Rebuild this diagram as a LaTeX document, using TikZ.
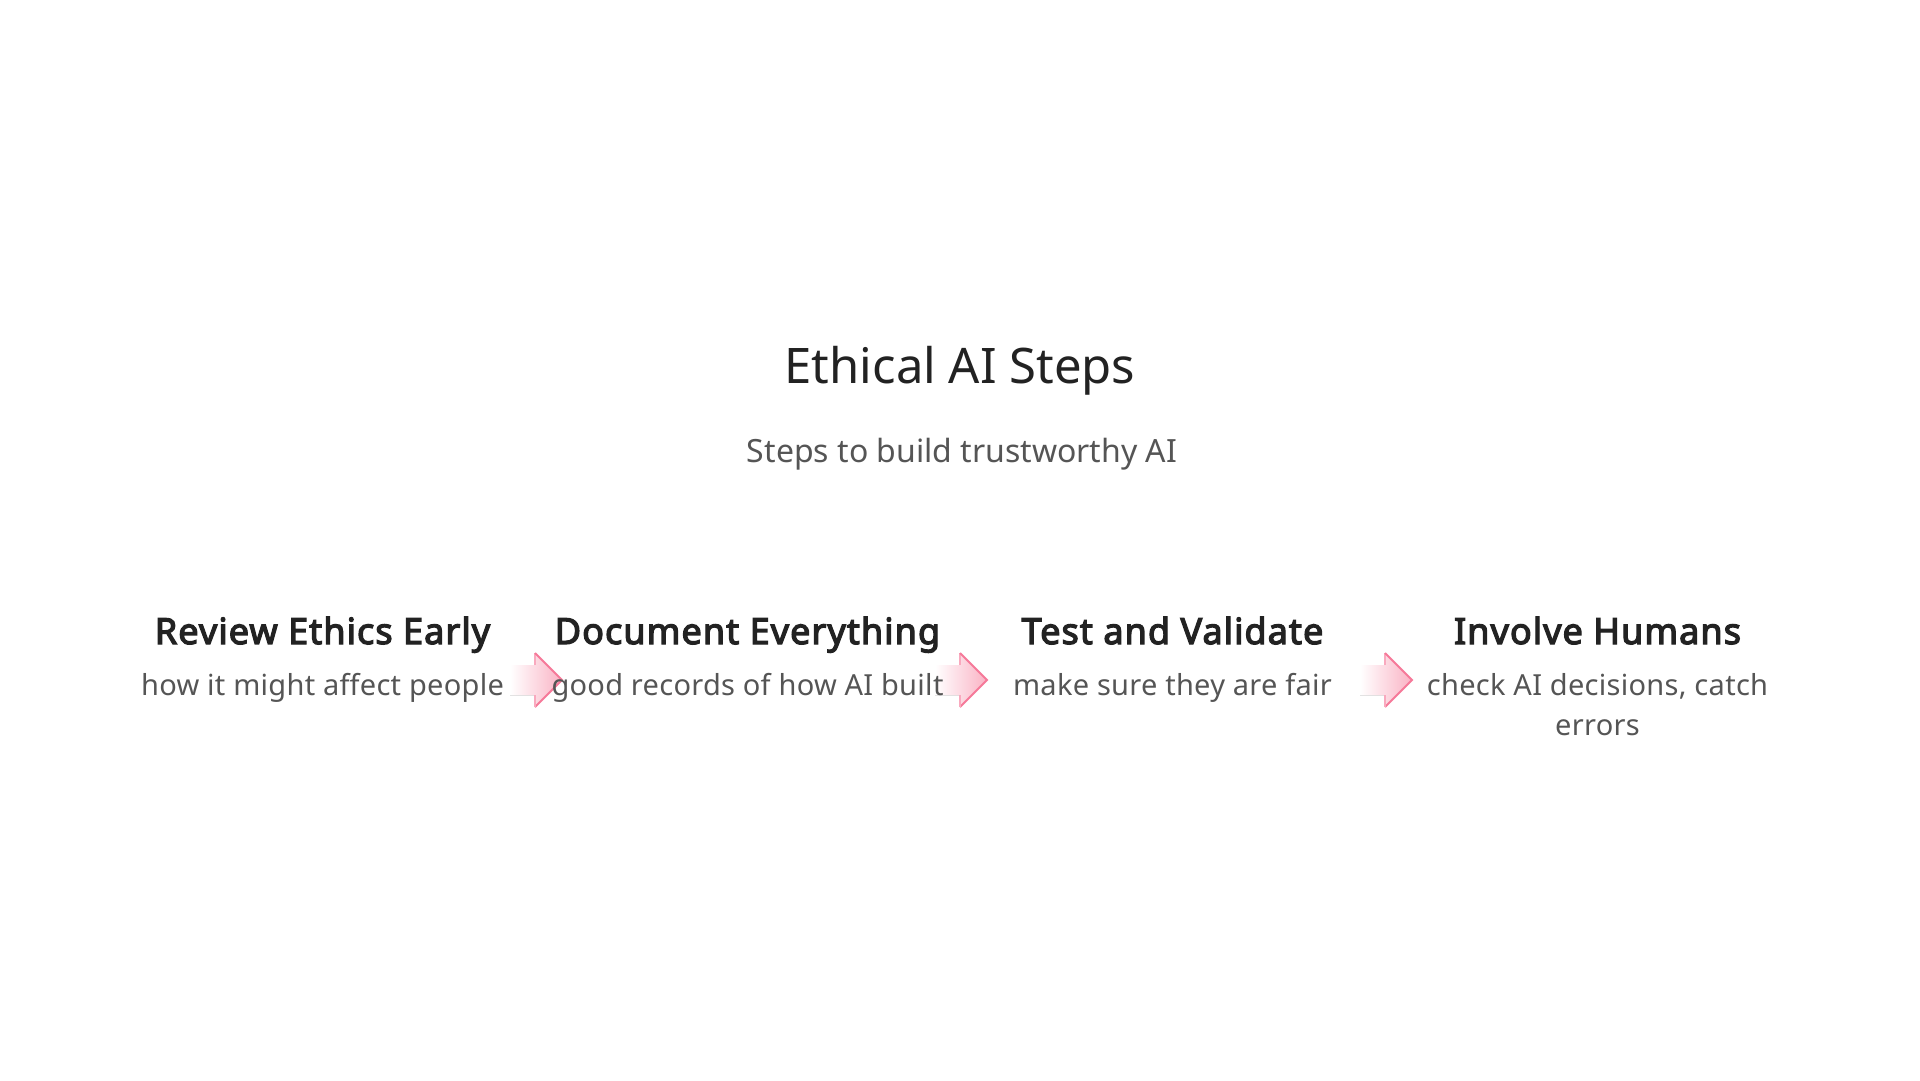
\documentclass[tikz,border=0pt]{standalone}
\usepackage{fontspec}
\setmainfont{Noto Sans}[BoldFont={Noto Sans}, BoldFeatures={FakeBold=3.5}]
\usetikzlibrary{calc}
\definecolor{titlecol}{HTML}{222222}
\definecolor{subcol}{HTML}{555555}
\definecolor{pinkA}{HTML}{F2406E}
\definecolor{pinkF}{HTML}{FAB2C4}
\tikzset{
  titletext/.style={font=\fontsize{49}{58}\selectfont, text=titlecol, anchor=base, inner sep=0pt},
  subtext/.style={font=\fontsize{32}{40}\selectfont, text=subcol, anchor=base, inner sep=0pt},
  headtext/.style={font=\fontsize{36}{44}\selectfont\bfseries\addfontfeature{LetterSpace=3}, text=titlecol, anchor=base, inner sep=0pt},
  desctext/.style={font=\fontsize{29}{40}\selectfont\addfontfeature{LetterSpace=1}, text=subcol, anchor=base, inner sep=0pt, align=center},
  arrowfill/.style={left color=white, right color=pinkF, draw=none},
  arrowedge/.style={draw=pinkA!70, line width=2pt, line join=miter}
}
\newcommand{\steparrow}[1]{%
  \fill[arrowfill] ($(#1)+(-52,-15)$) -- ($(#1)+(-27,-15)$) -- ($(#1)+(-27,-27)$) -- (#1) -- ($(#1)+(-27,27)$) -- ($(#1)+(-27,15)$) -- ($(#1)+(-52,15)$) -- cycle;
  \draw[arrowedge, draw=pinkA!45] ($(#1)+(-27,-15)$) -- ($(#1)+(-27,-27)$);
  \draw[arrowedge] ($(#1)+(-27,-27)$) -- (#1) -- ($(#1)+(-27,27)$);
  \draw[arrowedge, draw=pinkA!45] ($(#1)+(-27,27)$) -- ($(#1)+(-27,15)$);
}
\begin{document}
\begin{tikzpicture}[x=1pt,y=-1pt]
\useasboundingbox (0,0) rectangle (1920,1080);
\fill[white] (0,0) rectangle (1920,1080);

\coordinate (a1) at (562,680);
\coordinate (a2) at (987,680);
\coordinate (a3) at (1412,680);
\steparrow{a1}
\steparrow{a2}
\steparrow{a3}

\node[titletext] (title) at (960,383) {Ethical AI Steps};
\node[subtext] (subtitle) at (962,462) {Steps to build trustworthy AI};

\node[headtext] (h1) at (322.5,644) {Review Ethics Early};
\node[headtext] (h2) at (747.5,644) {Document Everything};
\node[headtext] (h3) at (1172.5,644) {Test and Validate};
\node[headtext] (h4) at (1597.5,644) {Involve Humans};

\node[desctext] (d1) at (322.5,695) {how it might affect people};
\node[desctext] (d2) at (747.5,695) {good records of how AI built};
\node[desctext] (d3) at (1172.5,695) {make sure they are fair};
\node[desctext, anchor=north] (d4) at (1597.5,673) {check AI decisions, catch\\errors};
\end{tikzpicture}
\end{document}
